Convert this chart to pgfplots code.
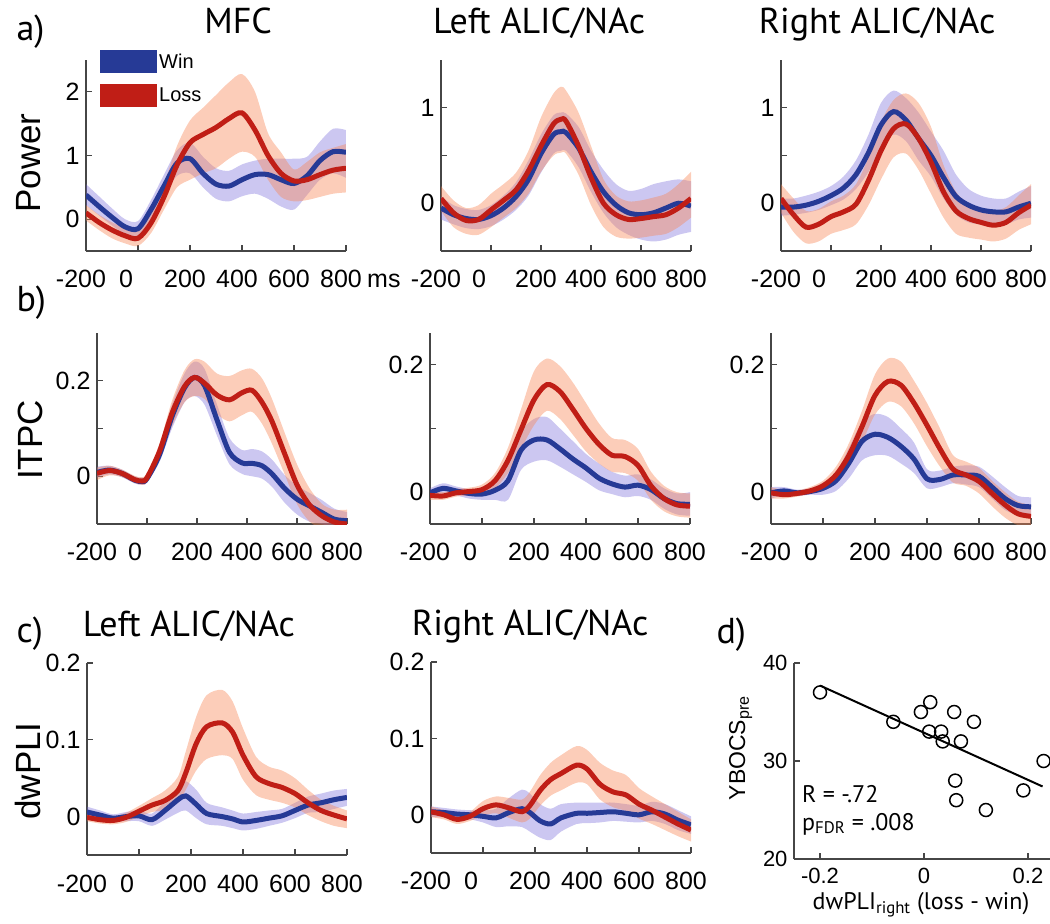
\documentclass[border=0pt]{standalone}
\usepackage{fontspec}
\setmainfont{Liberation Sans}
\newfontfamily\myriad{PT Sans}
\usepackage{pgfplots}
\pgfplotsset{compat=1.18}
\usepackage{pgfplotstable}
\usepgfplotslibrary{fillbetween}

\definecolor{wincol}{RGB}{38,58,150}
\definecolor{losscol}{RGB}{192,30,22}
\definecolor{winband}{RGB}{110,95,215}
\definecolor{lossband}{RGB}{248,130,80}
\definecolor{axisgray}{RGB}{70,70,70}

\newcommand\tickfont{\fontsize{25}{30}\selectfont}
\newcommand\titlefont{\myriad\fontsize{36}{42}\selectfont}
\newcommand\labfont{\fontsize{35}{42}\selectfont}
\newcommand\legfont{\fontsize{20}{24}\selectfont}

% t = ms; bm/blo/bhi = win mean and band; rm/rlo/rhi = loss mean and band
\pgfplotstableread{
t    bm     blo    bhi    rm     rlo    rhi
-200 0.38   0.22   0.55   0.10  -0.02   0.22
-150 0.20   0.06   0.36  -0.05  -0.17   0.07
-100 0.03  -0.10   0.17  -0.17  -0.30  -0.05
-50 -0.12  -0.24   0.00  -0.26  -0.38  -0.13
0   -0.15  -0.27  -0.03  -0.30  -0.42  -0.16
50   0.15   0.00   0.30  -0.06  -0.22   0.08
100  0.52   0.36   0.70   0.35   0.15   0.55
150  0.88   0.68   1.08   0.85   0.50   1.15
200  0.95   0.72   1.20   1.20   0.62   1.55
250  0.72   0.50   0.98   1.33   0.72   1.75
300  0.55   0.32   0.80   1.44   0.80   1.95
350  0.52   0.28   0.76   1.58   0.95   2.15
400  0.62   0.36   0.86   1.67   1.06   2.28
450  0.70   0.40   0.92   1.40   0.98   2.00
500  0.70   0.32   0.95   1.00   0.62   1.35
550  0.62   0.20   0.95   0.72   0.35   1.05
600  0.56   0.15   0.95   0.60   0.28   0.78
650  0.68   0.38   0.98   0.62   0.30   0.90
700  0.92   0.62   1.22   0.70   0.35   1.05
750  1.06   0.72   1.42   0.77   0.40   1.12
800  1.05   0.65   1.40   0.80   0.42   1.18
}\powmfc

\pgfplotstableread{
t    bm     blo    bhi    rm     rlo    rhi
-200 -0.05 -0.17   0.07   0.05  -0.08   0.18
-150 -0.12 -0.22  -0.02  -0.10  -0.25   0.03
-100 -0.16 -0.26  -0.06  -0.18  -0.32  -0.05
-50  -0.17 -0.27  -0.07  -0.17  -0.33  -0.02
0    -0.13 -0.24  -0.02  -0.07  -0.25   0.10
50   -0.05 -0.17   0.08   0.03  -0.15   0.20
100   0.07 -0.07   0.22   0.14  -0.05   0.32
150   0.25  0.08   0.45   0.34   0.10   0.55
200   0.52  0.32   0.72   0.60   0.33   0.90
250   0.72  0.52   0.92   0.83   0.50   1.15
280   0.75  0.55   0.95   0.88   0.53   1.22
300   0.74  0.55   0.94   0.86   0.52   1.18
350   0.58  0.38   0.80   0.60   0.30   0.95
400   0.33  0.12   0.55   0.27  -0.02   0.60
450   0.12 -0.10   0.35   0.00  -0.25   0.25
500  -0.02 -0.25   0.20  -0.12  -0.35   0.08
550  -0.10 -0.33   0.13  -0.17  -0.37   0.02
600  -0.12 -0.38   0.15  -0.16  -0.36   0.03
650  -0.10 -0.40   0.20  -0.14  -0.34   0.06
700  -0.05 -0.38   0.23  -0.12  -0.32   0.10
750   0.00 -0.33   0.25  -0.05  -0.25   0.20
800  -0.03 -0.30   0.23   0.05  -0.15   0.33
}\powleft

\pgfplotstableread{
t    bm     blo    bhi    rm     rlo    rhi
-200 -0.04 -0.13   0.05   0.05  -0.10   0.20
-150 -0.04 -0.12   0.05  -0.12  -0.30   0.05
-100 -0.02 -0.10   0.08  -0.25  -0.42  -0.08
-50   0.02 -0.07   0.12  -0.22  -0.40  -0.06
0     0.08 -0.02   0.18  -0.14  -0.32   0.02
50    0.16  0.04   0.28  -0.09  -0.28   0.08
100   0.30  0.15   0.45  -0.01  -0.22   0.20
150   0.53  0.33   0.72   0.24  -0.02   0.48
200   0.82  0.58   1.05   0.55   0.25   0.85
250   0.96  0.72   1.18   0.78   0.48   1.08
300   0.87  0.65   1.10   0.83   0.52   1.15
350   0.68  0.45   0.95   0.68   0.35   1.05
400   0.50  0.28   0.75   0.43   0.10   0.80
450   0.27  0.05   0.55   0.12  -0.15   0.40
500   0.07 -0.12   0.30  -0.08  -0.32   0.12
550  -0.02 -0.20   0.15  -0.16  -0.36   0.00
600  -0.07 -0.22   0.08  -0.20  -0.38  -0.05
650  -0.09 -0.22   0.05  -0.23  -0.40  -0.08
700  -0.09 -0.22   0.05  -0.20  -0.37  -0.04
750  -0.04 -0.17   0.12  -0.10  -0.28   0.08
800   0.00 -0.15   0.18  -0.02  -0.22   0.20
}\powright

\pgfplotstableread{
t    bm      blo     bhi     rm      rlo     rhi
-200  0.008 -0.003   0.020   0.006  -0.008   0.018
-150  0.013  0.004   0.022   0.012   0.002   0.022
-100  0.006 -0.002   0.014   0.006  -0.002   0.014
-50  -0.008 -0.015   0.000  -0.007  -0.014   0.001
-20  -0.011 -0.018  -0.003  -0.010  -0.018  -0.002
0    -0.005 -0.013   0.004  -0.003  -0.012   0.007
50    0.045  0.030   0.060   0.052   0.035   0.068
100   0.125  0.100   0.150   0.132   0.105   0.158
150   0.185  0.155   0.215   0.188   0.155   0.222
190   0.207  0.168   0.240   0.207   0.168   0.245
230   0.190  0.150   0.225   0.195   0.162   0.240
280   0.118  0.085   0.150   0.170   0.130   0.215
330   0.050  0.025   0.080   0.160   0.115   0.210
380   0.028  0.005   0.055   0.175   0.128   0.222
420   0.027  0.000   0.057   0.180   0.135   0.225
460   0.022 -0.005   0.052   0.155   0.110   0.205
500   0.005 -0.022   0.035   0.115   0.068   0.162
550  -0.025 -0.055   0.003   0.048   0.005   0.092
600  -0.048 -0.080  -0.020  -0.018  -0.058   0.025
650  -0.062 -0.095  -0.035  -0.060  -0.095  -0.025
700  -0.076 -0.100  -0.050  -0.083  -0.110  -0.058
750  -0.090 -0.110  -0.068  -0.096  -0.120  -0.070
800  -0.093 -0.110  -0.075  -0.100  -0.120  -0.070
}\itpcmfc

\pgfplotstableread{
t    bm      blo     bhi     rm      rlo     rhi
-200 -0.001 -0.008   0.006  -0.005  -0.012   0.002
-150  0.006 -0.002   0.014  -0.006  -0.012   0.000
-100  0.002 -0.005   0.009  -0.001  -0.007   0.005
-50  -0.002 -0.010   0.005   0.001  -0.005   0.007
0    -0.003 -0.012   0.006   0.004  -0.003   0.012
50    0.003 -0.012   0.018   0.018   0.006   0.030
100   0.018 -0.012   0.045   0.050   0.030   0.070
150   0.066  0.035   0.095   0.098   0.068   0.130
200   0.082  0.048   0.115   0.145   0.105   0.190
250   0.082  0.050   0.118   0.169   0.128   0.210
300   0.068  0.040   0.100   0.158   0.115   0.198
350   0.052  0.028   0.080   0.130   0.090   0.172
400   0.038  0.016   0.060   0.100   0.064   0.140
450   0.022  0.003   0.045   0.075   0.045   0.108
500   0.013 -0.003   0.032   0.058   0.032   0.085
550   0.008 -0.008   0.026   0.056   0.030   0.082
600   0.011 -0.006   0.028   0.042   0.018   0.068
650   0.004 -0.012   0.020   0.010  -0.012   0.032
700  -0.010 -0.026   0.006  -0.010  -0.030   0.010
750  -0.018 -0.035  -0.002  -0.020  -0.038   0.000
800  -0.019 -0.037   0.000  -0.022  -0.040  -0.002
}\itpcleft

\pgfplotstableread{
t    bm      blo     bhi     rm      rlo     rhi
-200 -0.001 -0.010   0.008  -0.001  -0.010   0.008
-150  0.002 -0.005   0.008  -0.004  -0.010   0.003
-100 -0.001 -0.006   0.004  -0.002  -0.007   0.003
-50   0.001 -0.004   0.006   0.002  -0.003   0.008
0     0.006 -0.004   0.015   0.010   0.002   0.018
50    0.018  0.002   0.030   0.027   0.014   0.040
100   0.046  0.022   0.070   0.058   0.040   0.077
150   0.080  0.050   0.110   0.103   0.078   0.128
200   0.091  0.058   0.123   0.152   0.122   0.185
250   0.086  0.057   0.118   0.174   0.142   0.210
300   0.072  0.045   0.100   0.168   0.135   0.205
350   0.052  0.030   0.078   0.140   0.108   0.175
400   0.021  0.006   0.036   0.105   0.072   0.140
450   0.020  0.008   0.034   0.068   0.040   0.100
500   0.027  0.014   0.040   0.036   0.015   0.058
550   0.027  0.012   0.042   0.027   0.010   0.048
600   0.025  0.008   0.040   0.017  -0.002   0.038
650   0.008 -0.010   0.025  -0.002  -0.022   0.018
700  -0.010 -0.028   0.008  -0.020  -0.040   0.000
750  -0.021 -0.036  -0.006  -0.034  -0.052  -0.015
800  -0.023 -0.038  -0.008  -0.038  -0.055  -0.020
}\itpcright

\pgfplotstableread{
t    bm      blo     bhi     rm      rlo     rhi
-200  0.006 -0.001   0.013  -0.001  -0.006   0.004
-150  0.002 -0.004   0.008  -0.004  -0.009   0.001
-100 -0.002 -0.007   0.003  -0.005  -0.010   0.000
-50   0.000 -0.006   0.006  -0.001  -0.007   0.005
0     0.001 -0.006   0.008   0.007   0.000   0.014
50   -0.004 -0.012   0.004   0.015   0.006   0.024
100   0.008 -0.004   0.020   0.021   0.009   0.034
150   0.022  0.005   0.038   0.034   0.018   0.052
180   0.027  0.008   0.046   0.057   0.035   0.085
220   0.016 -0.002   0.035   0.095   0.060   0.130
260   0.004 -0.010   0.018   0.117   0.075   0.158
320   0.000 -0.012   0.012   0.122   0.080   0.165
360  -0.003 -0.015   0.008   0.110   0.075   0.150
400  -0.007 -0.018   0.004   0.080   0.048   0.115
450  -0.005 -0.016   0.006   0.052   0.028   0.078
500  -0.002 -0.012   0.008   0.043   0.022   0.065
550   0.001 -0.008   0.010   0.038   0.018   0.060
600   0.008 -0.002   0.018   0.030   0.012   0.050
650   0.015  0.005   0.026   0.018   0.002   0.035
700   0.018  0.006   0.030   0.008  -0.006   0.022
750   0.022  0.010   0.034   0.002  -0.012   0.014
800   0.025  0.014   0.036  -0.003  -0.015   0.008
}\plileft

\pgfplotstableread{
t    bm      blo     bhi     rm      rlo     rhi
-200  0.004 -0.003   0.011   0.004  -0.003   0.011
-150  0.003 -0.003   0.009   0.000  -0.006   0.006
-100  0.001 -0.005   0.007  -0.006  -0.012   0.000
-50   0.000 -0.006   0.006  -0.002  -0.008   0.004
0    -0.002 -0.010   0.006   0.008  -0.001   0.018
50   -0.004 -0.016   0.008   0.013   0.002   0.024
100   0.003 -0.015   0.022   0.009  -0.004   0.022
150   0.008 -0.016   0.033   0.004  -0.010   0.020
180   0.003 -0.022   0.028   0.012  -0.005   0.030
220  -0.008 -0.030   0.014   0.032   0.012   0.052
260  -0.012 -0.033   0.008   0.046   0.025   0.068
300  -0.004 -0.022   0.014   0.054   0.032   0.078
360   0.002 -0.012   0.016   0.065   0.042   0.090
400   0.002 -0.011   0.016   0.060   0.040   0.085
450   0.003 -0.010   0.016   0.040   0.020   0.068
500   0.004 -0.008   0.016   0.030   0.010   0.058
550   0.002 -0.009   0.014   0.026   0.005   0.052
600   0.000 -0.010   0.012   0.014  -0.005   0.035
650   0.004 -0.008   0.017   0.006  -0.012   0.024
700   0.001 -0.012   0.014  -0.003  -0.020   0.014
750  -0.007 -0.020   0.006  -0.012  -0.028   0.004
800  -0.013 -0.025  -0.002  -0.020  -0.035  -0.006
}\pliright

\pgfplotstableread{
x       y
-0.200  37
-0.059  34
-0.006  35
 0.012  36
 0.010  33
 0.033  33
 0.036  32
 0.058  35
 0.071  32
 0.096  34
 0.060  28
 0.062  26
 0.119  25
 0.191  27
 0.230  30
}\ybocs

\newcommand{\winloss}[2]{%
  \addplot[draw=none, smooth, name path=bl#2, forget plot] table[x=t, y=blo] {#1};
  \addplot[draw=none, smooth, name path=bh#2, forget plot] table[x=t, y=bhi] {#1};
  \addplot[fill=winband, fill opacity=0.35, draw=none, forget plot] fill between[of=bl#2 and bh#2];
  \addplot[wincol, line width=5pt, smooth] table[x=t, y=bm] {#1};
  \addplot[draw=none, smooth, name path=rl#2, forget plot] table[x=t, y=rlo] {#1};
  \addplot[draw=none, smooth, name path=rh#2, forget plot] table[x=t, y=rhi] {#1};
  \addplot[fill=lossband, fill opacity=0.4, draw=none, forget plot] fill between[of=rl#2 and rh#2];
  \addplot[losscol, line width=5pt, smooth] table[x=t, y=rm] {#1};
}

\pgfplotsset{
  frame/.style={
    scale only axis, anchor=south west,
    axis x line*=bottom, axis y line*=left,
    axis line style={draw=axisgray, line width=1.5pt},
    tick style={draw=axisgray, line width=1.2pt},
    tick align=inside, major tick length=6pt,
    yticklabel style={xshift=-3pt},
  },
  panel/.style={
    frame,
    xmin=-200, xmax=800, xtick={-200,0,200,400,600,800},
    xticklabels={-200,{\kern-14pt 0},200,400,600,800},
    tick label style={font=\tickfont},
    xticklabel style={xshift=-5pt, yshift=-16pt},
    title style={font=\titlefont, anchor=base},
    ylabel style={font=\labfont, anchor=center},
  },
}

\begin{document}
\begin{tikzpicture}

% a) power
\begin{axis}[panel, at={(86pt,-251pt)}, width=260pt, height=191pt,
  ymin=-0.5, ymax=2.5, ytick={0,1,2}, yticklabels={0,1,2},
  title={MFC}, title style={at={(axis description cs:0.585,1.105)}},
  ylabel={Power}, ylabel style={at={(axis description cs:-0.219,0.46)}},
  legend entries={Win,Loss}, legend cell align=left,
  legend image code/.code={\fill[#1] (0pt,-9pt) rectangle (52pt,9pt);},
  legend style={at={(axis description cs:0.054,1.052)}, anchor=north west,
    draw=none, fill=none, font=\legfont, inner sep=0pt, row sep=11pt}]
\winloss{\powmfc}{A}
\end{axis}
\begin{axis}[panel, at={(441pt,-251pt)}, width=250pt, height=191pt,
  ymin=-0.5, ymax=1.5, ytick={0,0.5,1}, yticklabels={0,,1},
  title={Left ALIC/NAc}, title style={at={(axis description cs:0.392,1.105)}}]
\winloss{\powleft}{B}
\end{axis}
\begin{axis}[panel, at={(781pt,-251pt)}, width=250pt, height=191pt,
  ymin=-0.5, ymax=1.5, ytick={0,0.5,1}, yticklabels={0,,1},
  title={Right ALIC/NAc}, title style={at={(axis description cs:0.384,1.105)}}]
\winloss{\powright}{C}
\end{axis}

% b) ITPC
\begin{axis}[panel, at={(97pt,-524pt)}, width=250pt, height=191pt,
  ymin=-0.1, ymax=0.3, ytick={0,0.1,0.2}, yticklabels={0,,0.2},
  ylabel={ITPC}, ylabel style={at={(axis description cs:-0.268,0.44)}}]
\winloss{\itpcmfc}{D}
\end{axis}
\begin{axis}[panel, at={(430pt,-524pt)}, width=260pt, height=191pt,
  ymin=-0.05, ymax=0.25, ytick={0,0.1,0.2}, yticklabels={0,,0.2}]
\winloss{\itpcleft}{E}
\end{axis}
\begin{axis}[panel, at={(771pt,-524pt)}, width=260pt, height=191pt,
  ymin=-0.05, ymax=0.25, ytick={0,0.1,0.2}, yticklabels={0,,0.2}]
\winloss{\itpcright}{F}
\end{axis}

% c) dwPLI
\begin{axis}[panel, at={(87pt,-855pt)}, width=260pt, height=192pt,
  ymin=-0.05, ymax=0.2, ytick={0,0.1,0.2}, yticklabels={0,0.1,0.2},
  title={Left ALIC/NAc}, title style={at={(axis description cs:0.392,1.109)}},
  ylabel={dwPLI}, ylabel style={at={(axis description cs:-0.227,0.4375)}}]
\winloss{\plileft}{G}
\end{axis}
\begin{axis}[panel, at={(431pt,-853pt)}, width=260pt, height=191pt,
  ymin=-0.05, ymax=0.2, ytick={0,0.1,0.2}, yticklabels={0,0.1,0.2},
  title={Right ALIC/NAc}, title style={at={(axis description cs:0.381,1.105)}}]
\winloss{\pliright}{H}
\end{axis}

% d) correlation
\begin{axis}[frame, at={(794pt,-859pt)}, width=256pt, height=196pt,
  xmin=-0.25, xmax=0.2423, ymin=20, ymax=40,
  xtick={-0.2,0,0.2}, xticklabels={-0.2,0,0.2},
  ytick={20,30,40}, yticklabels={20,30,40},
  tick label style={font=\fontsize{22}{26}\selectfont},
  xticklabel style={yshift=-6pt},
  xlabel={\myriad dwPLI\textsubscript{right} (loss - win)},
  xlabel style={font=\fontsize{24}{28}\selectfont, at={(axis description cs:0.496,-0.26)}, anchor=base},
  ylabel={YBOCS\textsubscript{pre}},
  ylabel style={font=\fontsize{23}{27}\selectfont, at={(axis description cs:-0.191,0.566)}, anchor=base}]
\addplot[only marks, mark=o, mark size=6.5pt, black, line width=1.5pt] table[x=x, y=y] {\ybocs};
\addplot[black, line width=2pt] coordinates {(-0.2,37.7) (0.228,27.4)};
\end{axis}

% panel letters and loose texts
\node[anchor=base west, font=\titlefont] at (13pt,-40pt) {a)};
\node[anchor=base west, font=\titlefont] at (13pt,-311pt) {b)};
\node[anchor=base west, font=\titlefont] at (13pt,-642pt) {c)};
\node[anchor=base west, font=\titlefont] at (713pt,-643pt) {d)};
\node[anchor=base west, font=\tickfont, inner sep=0pt] at (367pt,-287pt) {ms};
\node[anchor=base west, font=\myriad\fontsize{24}{28}\selectfont, inner sep=0pt] at (802pt,-802pt) {R = -.72};
\node[anchor=base west, font=\myriad\fontsize{24}{28}\selectfont, inner sep=0pt] at (802pt,-830pt) {p\textsubscript{FDR} = .008};

\pgfresetboundingbox
\useasboundingbox (0pt,0pt) rectangle (1050pt,-924pt);
\end{tikzpicture}
\end{document}
